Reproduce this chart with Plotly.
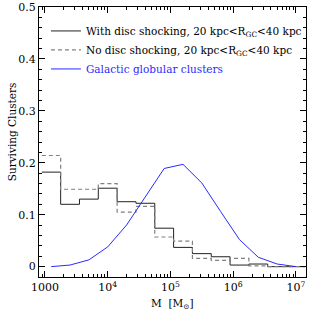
import plotly.graph_objects as go

# log10 bin edges of the mass histograms
bin_edges_log = [2.95, 3.25, 3.55, 3.85, 4.15, 4.45, 4.75, 5.05, 5.35, 5.65, 5.95, 6.25, 6.55, 6.85, 7.15]
with_disc = [0.182, 0.120, 0.130, 0.151, 0.125, 0.122, 0.074, 0.037, 0.025, 0.019, 0.003, 0.005, 0.0, 0.0]
no_disc = [0.214, 0.149, 0.149, 0.160, 0.105, 0.116, 0.057, 0.049, 0.016, 0.012, 0.016, 0.0015, 0.0, 0.0]

gc_logm = [3.1, 3.4, 3.7, 4.0, 4.3, 4.6, 4.9, 5.2, 5.5, 5.8, 6.1, 6.4, 6.7, 7.0]
gc_frac = [0.0, 0.003, 0.013, 0.038, 0.080, 0.135, 0.189, 0.197, 0.161, 0.106, 0.052, 0.018, 0.005, 0.0]

x_tickvals = [1e3, 1e4, 1e5, 1e6, 1e7]
x_ticktext = ["1000", "10<sup>4</sup>", "10<sup>5</sup>", "10<sup>6</sup>", "10<sup>7</sup>"]
y_tickvals = [0, 0.1, 0.2, 0.3, 0.4, 0.5]
y_ticktext = ["0", "0.1", "0.2", "0.3", "0.4", "0.5"]

edges = [10 ** e for e in bin_edges_log]
FONT = "DejaVu Serif"

fig = go.Figure()
fig.add_trace(go.Scatter(
    x=edges, y=with_disc + [with_disc[-1]], mode="lines", line_shape="hv",
    line=dict(color="#222222", width=1),
    name="With disc shocking, 20 kpc<R<sub>GC</sub><40 kpc"))
fig.add_trace(go.Scatter(
    x=edges, y=no_disc + [no_disc[-1]], mode="lines", line_shape="hv",
    line=dict(color="#808080", width=1.2, dash="4px,3px"),
    name="No disc shocking, 20 kpc<R<sub>GC</sub><40 kpc"))
fig.add_trace(go.Scatter(
    x=[10 ** v for v in gc_logm], y=gc_frac, mode="lines",
    line=dict(color="#2a2aff", width=1),
    name='<span style="color:#2a2aff">Galactic globular clusters</span>'))

axis_common = dict(
    showline=True, linecolor="black", linewidth=1, mirror="allticks",
    ticks="inside", ticklen=6, tickcolor="black", showgrid=False, zeroline=False,
    automargin=False,
    tickfont=dict(family=FONT, size=11, color="black"),
)

fig.update_xaxes(
    type="log", range=[2.905, 7.16], tickvals=x_tickvals, ticktext=x_ticktext,
    minor=dict(ticks="inside", ticklen=3, tickcolor="black", dtick="D1", showgrid=False),
    **axis_common)
fig.update_yaxes(
    range=[-0.02, 0.5], tickvals=y_tickvals, ticktext=y_ticktext,
    minor=dict(ticks="inside", ticklen=3, tickcolor="black", dtick=0.02, showgrid=False),
    **axis_common)

fig.add_annotation(text="M  [M<sub>⊙</sub>]", xref="paper", yref="paper",
                   x=0.5, y=-0.067, xanchor="center", yanchor="top", showarrow=False,
                   font=dict(family=FONT, size=10.5, color="black"))
fig.add_annotation(text="Surviving Clusters", xref="paper", yref="paper",
                   x=-0.10, y=0.537, xanchor="center", yanchor="middle", textangle=-90,
                   showarrow=False, font=dict(family=FONT, size=10.5, color="black"))

fig.update_layout(
    template="none",
    width=316, height=316,
    margin=dict(l=39, r=10, t=7, b=39),
    plot_bgcolor="white", paper_bgcolor="white",
    font=dict(family=FONT, size=10, color="black"),
    legend=dict(x=0.026, y=0.965, xanchor="left", yanchor="top",
                bgcolor="rgba(0,0,0,0)", font=dict(family=FONT, size=10.5, color="black"),
                tracegroupgap=0, itemwidth=30),
    showlegend=True,
)

fig.write_html("out.html", config={"displayModeBar": False},
               post_script="document.body.style.margin='0px';")
